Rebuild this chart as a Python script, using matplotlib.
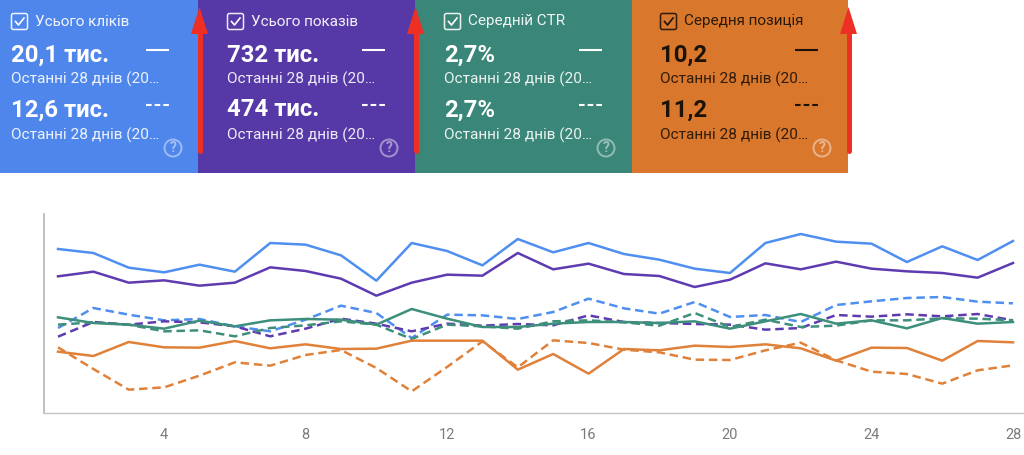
import matplotlib
matplotlib.use("Agg")
import matplotlib.pyplot as plt
from matplotlib.patches import Rectangle, FancyBboxPatch, Circle, Polygon
from matplotlib.lines import Line2D

plt.rcParams['font.family'] = ['Roboto', 'DejaVu Sans']

days = list(range(1, 29))
tick_days = [4, 8, 12, 16, 20, 24, 28]

# values, no y scale is shown so the units are arbitrary
clicks = [492,480,436,422,445,424,510,505,473,397,510,486,443,522,482,510,477,460,433,420,510,537,514,508,453,500,459,516]
clicks_prev = [255,315,295,278,282,260,245,280,322,300,225,295,293,282,303,343,314,298,333,288,294,273,324,335,345,348,334,329]
shows = [410,424,391,398,382,391,437,426,403,352,391,415,412,480,431,448,417,411,378,400,449,431,454,433,425,420,406,450]
shows_prev = [229,273,265,275,272,260,230,253,283,268,245,268,262,267,263,293,273,270,267,265,250,255,294,289,296,290,297,278]
ctr = [287,270,265,253,277,260,278,282,280,265,312,283,258,258,268,273,273,270,275,253,275,297,268,278,254,285,268,273]
ctr_prev = [265,272,265,245,248,230,255,263,275,265,222,265,260,253,275,278,272,262,300,258,280,258,262,278,278,284,283,278]
position = [184,171,213,197,196,216,194,206,192,193,217,217,217,130,177,118,192,188,202,198,206,194,157,196,195,157,216,212]
position_prev = [197,132,70,77,112,152,142,174,189,135,65,138,215,137,218,210,190,182,160,159,188,211,158,124,117,88,128,143]

card_titles = ["Усього кліків", "Усього показів", "Середній CTR", "Середня позиція"]
card_now = ["20,1 тис.", "732 тис.", "2,7%", "10,2"]
card_prev = ["12,6 тис.", "474 тис.", "2,7%", "11,2"]
period = "Останні 28 днів (20…"

BLUE = "#4f86ec"
PURPLE = "#5639a6"
GREEN = "#3a8678"
ORANGE = "#d9772c"
card_colors = [BLUE, PURPLE, GREEN, ORANGE]
card_edges = [0, 198, 415, 632, 848]
card_text_x = [11, 227, 444, 660]
card_text = ["white", "white", "white", "#1c1208"]
arrow_x = [199, 415, 848]

W, H = 1024, 455
fig = plt.figure(figsize=(W / 100, H / 100), dpi=100)

# pixel overlay for the cards
ov = fig.add_axes([0, 0, 1, 1])
ov.set_xlim(0, W)
ov.set_ylim(H, 0)
ov.axis("off")

for i in range(4):
    x0 = card_edges[i]
    x1 = card_edges[i + 1]
    c = card_text[i]
    tx = card_text_x[i]
    ov.add_patch(Rectangle((x0, 0), x1 - x0, 173, color=card_colors[i], lw=0))
    # checkbox
    ov.add_patch(FancyBboxPatch((tx + 0.5, 13.5), 16, 16, boxstyle="round,pad=0,rounding_size=2",
                                fc="none", ec=c, lw=1.1, alpha=0.9))
    ov.add_line(Line2D([tx + 4.5, tx + 7.5, tx + 13], [21.5, 25, 18], color=c, lw=1.2))
    ov.text(tx + 24, 21.5, card_titles[i], color=c, fontsize=11, va="center", ha="left", alpha=0.92)
    ov.text(tx, 55, card_now[i], color=c, fontsize=17.2, fontweight="bold", va="center", ha="left")
    ov.text(tx, 79, period, color=c, fontsize=11.1, va="center", ha="left", alpha=0.9)
    ov.text(tx, 110, card_prev[i], color=c, fontsize=17.2, fontweight="bold", va="center", ha="left")
    ov.text(tx, 135, period, color=c, fontsize=11.1, va="center", ha="left", alpha=0.9)
    # legend dashes
    ov.add_line(Line2D([tx + 135, tx + 158], [49.5, 49.5], color=c, lw=1.5, solid_capstyle="butt"))
    ov.add_line(Line2D([tx + 135, tx + 158], [105, 105], color=c, lw=1.5, dashes=(2.7, 1.45),
                       dash_capstyle="butt"))
    # help icon
    ov.add_patch(Circle((tx + 162, 148), 8.5, fc="none", ec="white", lw=1.4, alpha=0.45))
    ov.text(tx + 162, 148.5, "?", color="white", alpha=0.5, fontsize=10, fontweight="bold", ha="center", va="center")

# red arrows
for a in arrow_x:
    ov.add_line(Line2D([a + 1, a + 1], [30, 151], color="#ee2f24", lw=3.6, solid_capstyle="round"))
    ov.add_patch(Polygon([[a + 0.5, 7], [a - 8, 34], [a + 9, 34]], closed=True, color="#ee2f24", lw=0))

# line chart
left, right, top, bottom = 44, 1024, 214, 413
ax = fig.add_axes([left / W, 1 - bottom / H, (right - left) / W, (bottom - top) / H])
ax.patch.set_alpha(0)
step = (1013 - 58) / 27
ax.set_xlim(1 - (58 - left) / step, 28 + (right - 1013) / step)
ax.set_ylim(0, 597)

dash = (0, (3.4, 1.9))
ax.plot(days, clicks, color="#4f8ff0", lw=1.8)
ax.plot(days, clicks_prev, color="#4f8ff0", lw=1.8, ls=dash)
ax.plot(days, shows, color="#5e3bb0", lw=1.8)
ax.plot(days, shows_prev, color="#5e3bb0", lw=1.8, ls=dash)
ax.plot(days, ctr, color="#3d8f7c", lw=1.8)
ax.plot(days, ctr_prev, color="#3d8f7c", lw=1.8, ls=dash)
ax.plot(days, position, color="#e0813a", lw=1.8)
ax.plot(days, position_prev, color="#e0813a", lw=1.8, ls=dash)

ax.spines["top"].set_visible(False)
ax.spines["right"].set_visible(False)
ax.spines["left"].set_color("#b5b5b5")
ax.spines["bottom"].set_color("#c4c4c4")
ax.spines["left"].set_linewidth(1.2)
ax.spines["bottom"].set_linewidth(1.0)
ax.set_yticks([])
ax.set_xticks(tick_days)
ax.tick_params(axis="x", length=0, pad=11, labelsize=10.5, labelcolor="#7b7b7b")

fig.savefig("out.png", dpi=100)
